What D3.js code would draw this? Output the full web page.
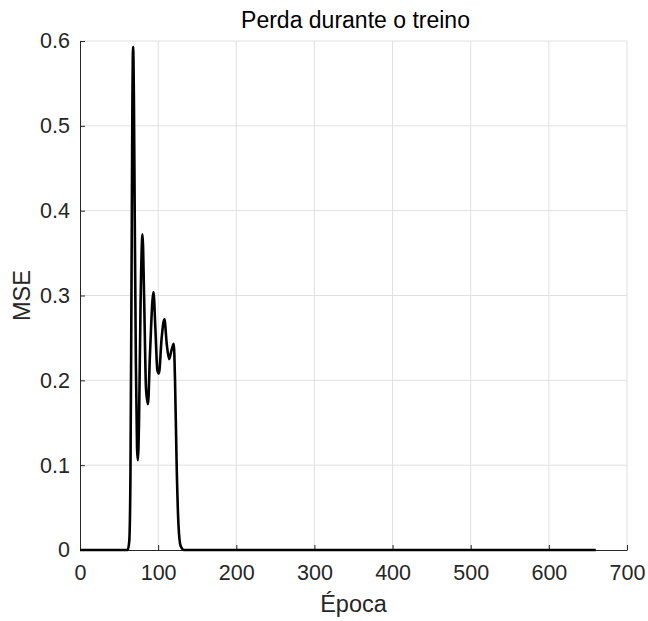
<!DOCTYPE html>
<html>
<head>
<meta charset="utf-8">
<script src="https://cdn.jsdelivr.net/npm/d3@7"></script>
<style>
  html, body { margin: 0; padding: 0; background: #ffffff; }
  svg { display: block; font-family: "Liberation Sans", Arial, Helvetica, sans-serif; }
</style>
</head>
<body>
<svg id="chart" width="648" height="621"></svg>
<script>
// Training loss (MSE) per epoch
const epochs = [0, 61, 63, 64.5, 66, 67, 68, 69, 70, 71.5, 73, 74, 75.5, 77.5, 80, 82, 84.5, 87,
  89.5, 94, 96.5, 99, 101, 104.5, 108, 111, 114, 117, 120, 121.6, 123.7, 126, 128.7, 133, 660];
const mse = [0, 0, 0.01, 0.08, 0.33, 0.52, 0.593, 0.53, 0.40, 0.22, 0.12, 0.106, 0.15, 0.29, 0.372,
  0.30, 0.19, 0.172, 0.23, 0.304, 0.26, 0.212, 0.208, 0.25, 0.272, 0.243, 0.225, 0.235, 0.243,
  0.2, 0.1, 0.03, 0.005, 0, 0];
const xTicks = [0, 100, 200, 300, 400, 500, 600, 700];
const yTicks = [0, 0.1, 0.2, 0.3, 0.4, 0.5, 0.6];

const titleText = "Perda durante o treino";
const xLabel = "Época";
const yLabel = "MSE";

const margin = { left: 80, right: 21, top: 41, bottom: 71 };
const W = 648, H = 621;
const svg = d3.select("#chart");

const x = d3.scaleLinear().domain([0, 700]).range([margin.left, W - margin.right]);
const y = d3.scaleLinear().domain([0, 0.6]).range([H - margin.bottom, margin.top]);

const axisColor = "#262626";
const gridColor = "#e0e0e0";

// grid lines
const grid = svg.append("g");
grid.selectAll("line.gx").data(xTicks.slice(1)).join("line")
  .attr("x1", d => x(d)).attr("x2", d => x(d))
  .attr("y1", y(0)).attr("y2", y(0.6))
  .attr("stroke", gridColor).attr("stroke-width", 1);
grid.selectAll("line.gy").data(yTicks.slice(1)).join("line")
  .attr("y1", d => y(d)).attr("y2", d => y(d))
  .attr("x1", x(0)).attr("x2", x(700))
  .attr("stroke", gridColor).attr("stroke-width", 1);

// axes with inward ticks
const xAxis = d3.axisBottom(x).tickValues(xTicks).tickFormat(d3.format("d"))
  .tickSizeInner(-5).tickSizeOuter(0).tickPadding(15);
const yAxis = d3.axisLeft(y).tickValues(yTicks).tickFormat(d => d === 0 ? "0" : d3.format(".1f")(d))
  .tickSizeInner(-5).tickSizeOuter(0).tickPadding(10);

const gx = svg.append("g").attr("transform", `translate(0,${y(0)})`).call(xAxis);
const gy = svg.append("g").attr("transform", `translate(${x(0)},0)`).call(yAxis);
[gx, gy].forEach(g => {
  g.select(".domain").attr("stroke", axisColor).attr("stroke-width", 1);
  g.selectAll(".tick line").attr("stroke", axisColor);
  g.selectAll(".tick text").attr("fill", axisColor).attr("font-size", 21.5)
    .attr("font-family", "Liberation Sans, Arial, sans-serif");
});

// loss curve
const line = d3.line()
  .x((d, i) => x(epochs[i]))
  .y(d => y(d))
  .curve(d3.curveMonotoneX);
svg.append("path")
  .datum(mse)
  .attr("d", line)
  .attr("fill", "none")
  .attr("stroke", "#000000")
  .attr("stroke-width", 2.6)
  .attr("stroke-linejoin", "round");

// title and labels
svg.append("text")
  .attr("x", (x(0) + x(700)) / 2 + 2).attr("y", 28)
  .attr("text-anchor", "middle").attr("font-size", 23).attr("fill", "#000")
  .text(titleText);
svg.append("text")
  .attr("x", (x(0) + x(700)) / 2).attr("y", 612)
  .attr("text-anchor", "middle").attr("font-size", 23.5).attr("fill", axisColor)
  .text(xLabel);
svg.append("text")
  .attr("transform", `translate(30,${(y(0) + y(0.6)) / 2}) rotate(-90)`)
  .attr("text-anchor", "middle").attr("font-size", 23.5).attr("fill", axisColor)
  .text(yLabel);
</script>
</body>
</html>
